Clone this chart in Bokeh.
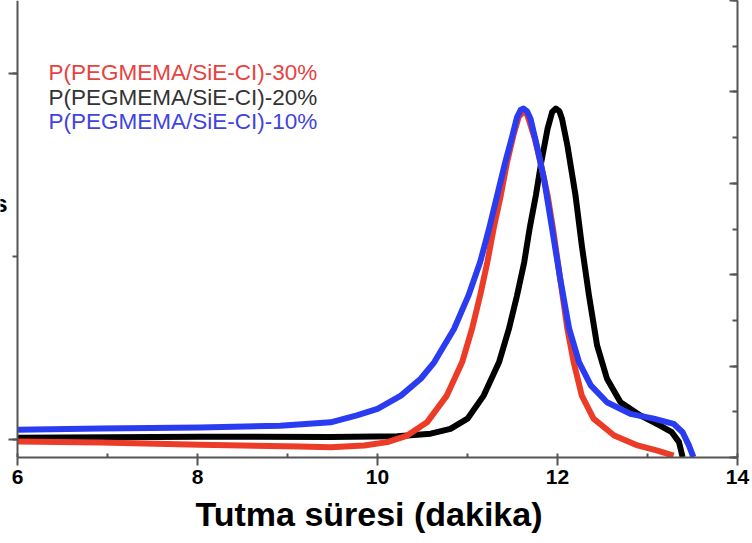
from bokeh.plotting import figure
from bokeh.models import Range1d, LinearAxis, SingleIntervalTicker, Label
from bokeh.embed import file_html
from bokeh.resources import INLINE

# ---- data (retention time in minutes, normalized detector signal) ----
series_names = ["P(PEGMEMA/SiE-CI)-30%", "P(PEGMEMA/SiE-CI)-20%", "P(PEGMEMA/SiE-CI)-10%"]

red_x = [6.00, 6.92, 8.03, 9.14, 9.48, 9.85, 10.11, 10.33, 10.55, 10.77, 10.94, 11.05, 11.14, 11.22,
         11.29, 11.37, 11.44, 11.51, 11.57, 11.62, 11.66, 11.69, 11.75, 11.81, 11.89, 11.95, 12.03,
         12.11, 12.18, 12.27, 12.40, 12.63, 12.89, 13.11, 13.29]
red_y = [-0.005, -0.008, -0.014, -0.019, -0.021, -0.016, -0.007, 0.011, 0.047, 0.120, 0.211, 0.302, 0.393, 0.484,
         0.576, 0.667, 0.758, 0.831, 0.882, 0.895, 0.889, 0.867, 0.820, 0.758, 0.667, 0.576, 0.439,
         0.302, 0.211, 0.120, 0.057, 0.011, -0.016, -0.030, -0.044]

black_x = [6.00, 8.03, 9.48, 10.22, 10.59, 10.81, 11.00, 11.18, 11.35, 11.46, 11.55, 11.63, 11.69, 11.76,
           11.82, 11.89, 11.94, 11.98, 12.02, 12.05, 12.11, 12.20, 12.27, 12.35, 12.44, 12.55, 12.70,
           12.92, 13.14, 13.27, 13.35, 13.39]
black_y = [0.005, 0.008, 0.007, 0.009, 0.016, 0.029, 0.057, 0.120, 0.211, 0.302, 0.393, 0.484, 0.576, 0.667,
           0.758, 0.849, 0.894, 0.904, 0.897, 0.876, 0.803, 0.667, 0.530, 0.393, 0.257, 0.166, 0.102,
           0.066, 0.038, 0.020, -0.007, -0.048]

blue_x = [6.00, 6.92, 8.03, 8.92, 9.48, 9.77, 10.00, 10.26, 10.48, 10.63, 10.85, 11.01, 11.14, 11.24,
          11.33, 11.42, 11.50, 11.55, 11.59, 11.62, 11.66, 11.70, 11.77, 11.85, 11.94, 12.03, 12.13,
          12.24, 12.37, 12.55, 12.81, 13.07, 13.29, 13.39, 13.46, 13.51]
blue_y = [0.027, 0.030, 0.033, 0.038, 0.047, 0.066, 0.084, 0.120, 0.166, 0.211, 0.302, 0.393, 0.484, 0.576,
          0.667, 0.758, 0.831, 0.880, 0.900, 0.904, 0.897, 0.876, 0.803, 0.712, 0.576, 0.439, 0.302,
          0.211, 0.148, 0.102, 0.070, 0.057, 0.043, 0.020, -0.016, -0.048]

x_start, x_end = 6, 14
x_tick_interval = 2

# ---- figure ----
FONT = "Liberation Sans"
left_pad = 17 / 90.0   # the frame reaches the window edge; the y axis sits at x = 6
p = figure(width=752, height=543, x_range=Range1d(x_start - left_pad, x_end),
           y_range=Range1d(-0.049, 1.199), y_axis_location=None,
           output_backend="svg", toolbar_location=None,
           min_border_left=0, min_border_right=15, min_border_top=0, min_border_bottom=86)
p.outline_line_color = None
p.xgrid.visible = False
p.ygrid.visible = False
p.background_fill_color = "white"

axis_color = "#555555"

xa = p.xaxis[0]
xa.bounds = (x_start, x_end)
xa.ticker = SingleIntervalTicker(interval=x_tick_interval, num_minor_ticks=2)
xa.axis_line_color = axis_color
xa.axis_line_width = 2
xa.major_tick_line_color = axis_color
xa.major_tick_line_width = 2
xa.major_tick_out = 8
xa.major_tick_in = 0
xa.minor_tick_line_color = axis_color
xa.minor_tick_line_width = 2
xa.minor_tick_in = 4
xa.minor_tick_out = 0
xa.major_label_text_font = FONT
xa.major_label_text_font_style = "bold"
xa.major_label_text_font_size = "21px"
xa.major_label_text_color = "black"
xa.major_label_standoff = 4
xa.axis_label = "Tutma süresi (dakika)"
xa.axis_label_text_font = FONT
xa.axis_label_text_font_style = "bold"
xa.axis_label_text_font_size = "34px"
xa.axis_label_text_color = "black"
xa.axis_label_standoff = 8

# right axis (own scale, ticks pointing inward)
p.extra_y_ranges = {"r": Range1d(0, 5)}
ra = LinearAxis(y_range_name="r", ticker=SingleIntervalTicker(interval=1, num_minor_ticks=2))
ra.axis_line_color = axis_color
ra.axis_line_width = 2
ra.major_tick_line_color = axis_color
ra.major_tick_line_width = 2
ra.major_tick_in = 8
ra.major_tick_out = 0
ra.minor_tick_line_color = axis_color
ra.minor_tick_line_width = 2
ra.minor_tick_in = 5
ra.minor_tick_out = 0
ra.major_label_text_font_size = "0px"
ra.major_label_standoff = 0
p.add_layout(ra, "right")

# left axis, drawn at x = 6 with its ticks pointing left
la = LinearAxis(fixed_location=x_start, ticker=SingleIntervalTicker(interval=1, num_minor_ticks=2))
la.axis_line_color = axis_color
la.axis_line_width = 2
la.major_tick_line_color = axis_color
la.major_tick_line_width = 2
la.major_tick_in = 9
la.major_tick_out = 0
la.minor_tick_line_color = axis_color
la.minor_tick_line_width = 2
la.minor_tick_in = 5
la.minor_tick_out = 0
la.major_label_text_font_size = "0px"
la.major_label_standoff = 0
p.add_layout(la, "right")

# ---- curves ----
line_colors = ["#ec3b26", "#000000", "#2a3cf2"]
p.line(black_x, black_y, line_color=line_colors[1], line_width=6, line_join="round")
p.line(red_x, red_y, line_color=line_colors[0], line_width=6, line_join="round")
p.line(blue_x, blue_y, line_color=line_colors[2], line_width=6, line_join="round")

# ---- legend texts ----
text_colors = ["#e8423f", "#333333", "#3f43e0"]
legend_y = [1.003, 0.934, 0.868]
for name, col, ly in zip(series_names, text_colors, legend_y):
    p.add_layout(Label(x=6.345, y=ly, text=name, text_color=col, text_font=FONT,
                       text_font_size="22.5px", text_baseline="middle", text_align="left"))

# cut-off letter at the far left edge
p.add_layout(Label(x=5.889, y=0.645, text="s", text_color="black", text_font=FONT,
                   text_font_style="bold", text_font_size="24px", text_baseline="middle",
                   text_align="right"))

open("out.html", "w").write(file_html(p, INLINE))
